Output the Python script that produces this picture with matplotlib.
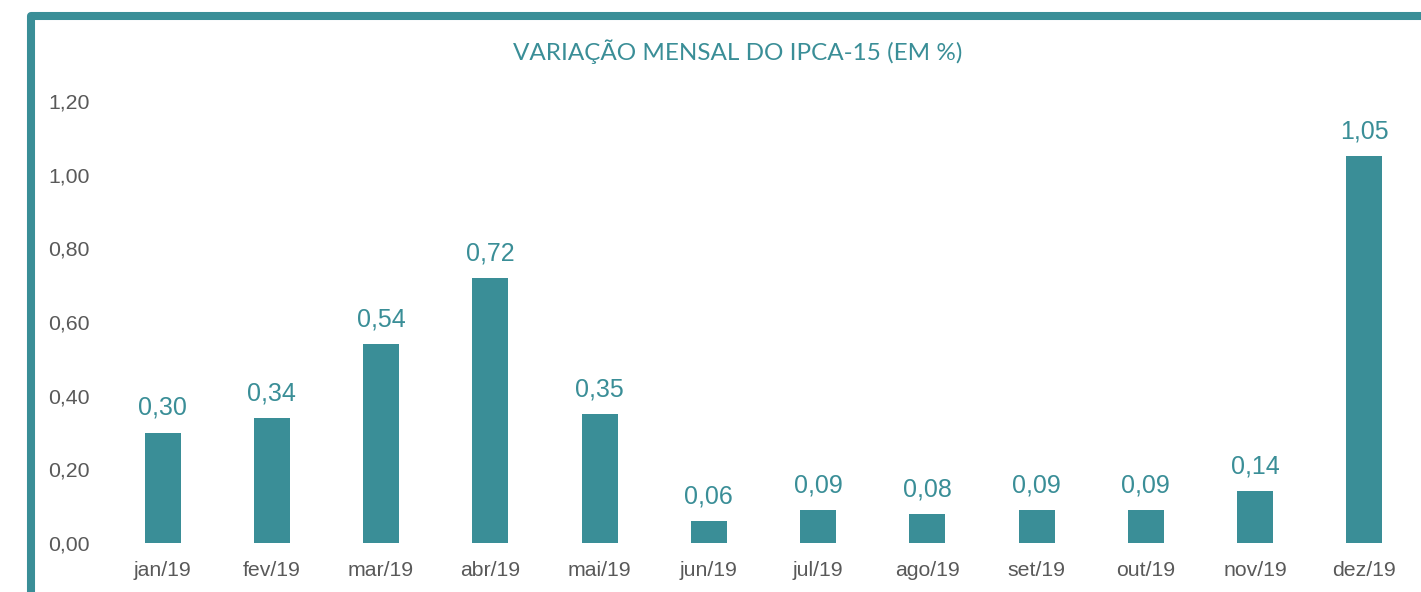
import numpy as np
import matplotlib
matplotlib.use("Agg")
import matplotlib.pyplot as plt
from matplotlib.patches import Rectangle

# data
meses = ["jan/19", "fev/19", "mar/19", "abr/19", "mai/19", "jun/19",
         "jul/19", "ago/19", "set/19", "out/19", "nov/19", "dez/19"]
ipca15 = [0.30, 0.34, 0.54, 0.72, 0.35, 0.06, 0.09, 0.08, 0.09, 0.09, 0.14, 1.05]
yticks = [0.0, 0.2, 0.4, 0.6, 0.8, 1.0, 1.2]

TEAL = "#3A8E97"
GRAY = "#595959"
W, H = 1421, 592

fig = plt.figure(figsize=(W / 100, H / 100), dpi=100)
ax = fig.add_axes([108 / W, 1 - 543 / H, (1419 - 108) / W, (543 - 101) / H])

x = np.arange(len(meses))
ax.bar(x, ipca15, width=0.33, color=TEAL)
for xi, v in zip(x, ipca15):
    ax.annotate(("%.2f" % v).replace(".", ","), (xi, v), xytext=(0, 9),
                textcoords="offset points", ha="center", va="bottom",
                color=TEAL, fontsize=18, family="Liberation Sans")

ax.set_xlim(-0.5, len(meses) - 0.5)
ax.set_ylim(0, 1.2)
ax.set_yticks(yticks)
ax.set_yticklabels([("%.2f" % t).replace(".", ",") for t in yticks])
ax.set_xticks(x)
ax.set_xticklabels(meses)
for lab in ax.get_xticklabels() + ax.get_yticklabels():
    lab.set_family("Liberation Sans")
    lab.set_fontsize(15.3)
    lab.set_color(GRAY)
ax.tick_params(length=0)
ax.tick_params(axis="y", pad=13)
ax.tick_params(axis="x", pad=13)
for s in ax.spines.values():
    s.set_visible(False)

fig.text(738 / W, 1 - 52 / H, "VARIAÇÃO MENSAL DO IPCA-15 (EM %)", ha="center",
         va="center", color=TEAL, fontsize=17.5, family="Lato")

# frame border (top and left, cut off by figure edge)
frame = Rectangle((31 / W, -0.5), 2, 1.5 - 15.5 / H, transform=fig.transFigure,
                  fill=False, edgecolor=TEAL, linewidth=5.8, joinstyle="round",
                  clip_on=False)
fig.add_artist(frame)

fig.savefig("out.png", dpi=100)
